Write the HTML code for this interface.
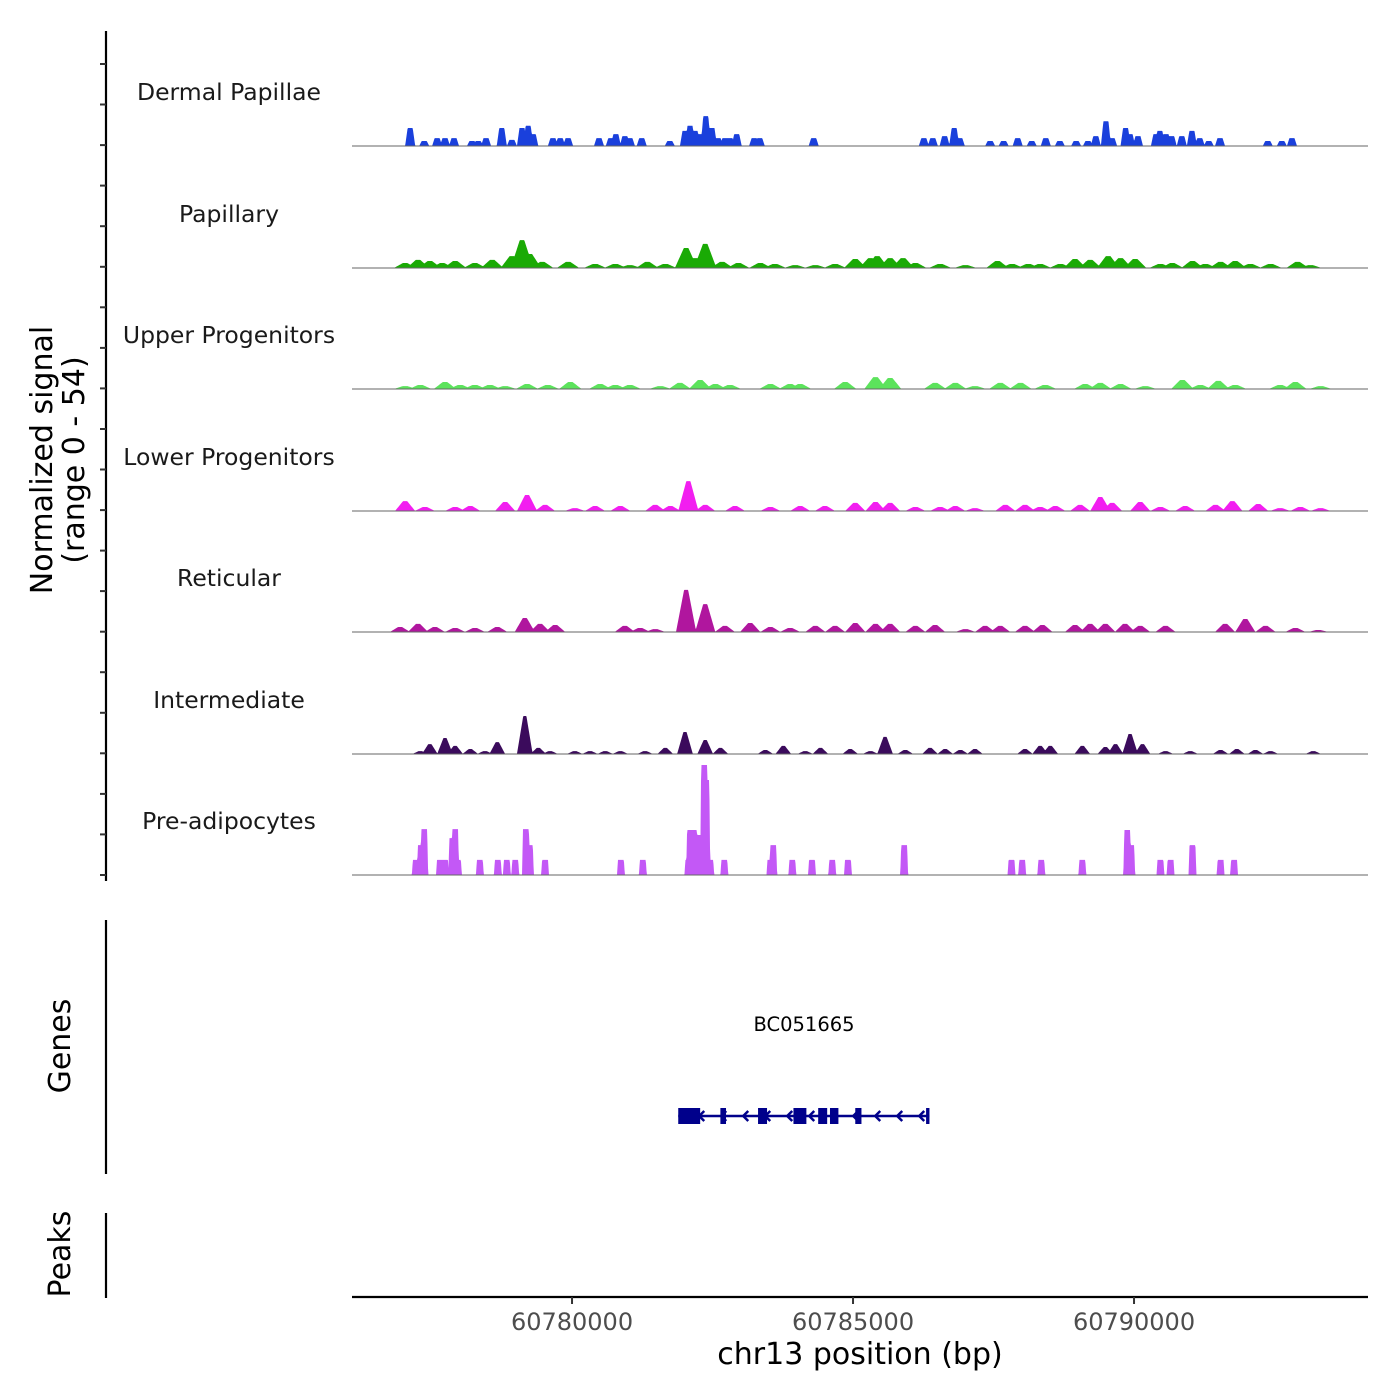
<!DOCTYPE html>
<html><head><meta charset="utf-8"><style>
body{margin:0;background:#fff}
svg{display:block;font-family:"DejaVu Sans","Liberation Sans",sans-serif}
</style></head><body>
<svg id="chart" width="1400" height="1400" viewBox="0 0 1400 1400" xmlns="http://www.w3.org/2000/svg">
<rect width="1400" height="1400" fill="#fff"/>
<g id="tracks"></g>
<g id="axes"></g>
</svg>
<script>
// positions in kb offset from 60700 kb; heights in normalized units (range 0-54)
const trackNames = ["Dermal Papillae","Papillary","Upper Progenitors","Lower Progenitors","Reticular","Intermediate","Pre-adipocytes"];
const trackColors = ["#1a40dc","#1aaa05","#5ce35c","#f21ef0","#b0169e","#3b0b5c","#c358f6"];
const dpPos = [77.12,77.37,77.60,77.74,77.90,78.22,78.33,78.47,78.75,78.93,79.11,79.22,79.31,79.66,79.79,79.93,80.48,80.69,80.78,80.94,81.03,81.24,81.74,82.01,82.10,82.19,82.28,82.38,82.49,82.60,82.72,82.81,82.93,83.24,83.34,84.30,86.26,86.42,86.63,86.80,86.90,87.44,87.68,87.93,88.18,88.43,88.68,88.97,89.18,89.32,89.50,89.61,89.85,89.93,90.07,90.39,90.46,90.57,90.67,90.85,91.03,91.17,91.33,91.53,92.38,92.63,92.81];
const dpVal = [8,2.2,3.5,3.5,3.5,2.2,2.2,3.5,8,2.7,8,9,5.3,3.5,3.5,3.5,3.5,3.5,5.3,4.4,3.5,3.5,2.2,6.7,9,6.7,5.3,13.3,8,3.5,3.5,3.5,5.3,3.5,3.5,3.5,3.5,3.5,4.4,8,3.5,2.2,2.2,3.5,2.2,3.5,2.2,2.2,2.2,4.4,11,3.5,8,5.3,4.4,5.3,6.7,5.3,4.4,4.4,6.7,3.5,2.2,3.5,2.2,2.2,3.5];
const paPos = [77.03,77.26,77.47,77.69,77.92,78.27,78.58,78.93,79.11,79.25,79.47,79.93,80.41,80.77,81.03,81.34,81.66,82.03,82.19,82.37,82.67,82.96,83.35,83.61,83.97,84.33,84.68,85.04,85.31,85.43,85.66,85.89,86.11,86.55,87.00,87.57,87.83,88.12,88.33,88.69,88.95,89.22,89.54,89.76,90.02,90.47,90.68,91.04,91.27,91.54,91.80,92.07,92.43,92.91,93.14];
const paVal = [2.2,3.6,3.1,2.2,3.1,2.2,3.6,5.3,12.4,6.2,2.7,2.7,1.8,1.8,1.3,2.7,1.8,8.9,4.4,10.7,2.7,2.2,2.2,1.8,1.3,1.3,1.8,4,4.4,5.3,4.4,4.4,2.2,1.8,1.3,3.1,1.8,1.8,1.8,1.8,4,3.6,5.3,4.4,4,1.8,2.2,3.1,1.8,2.7,3.1,1.8,1.8,2.7,1.3];
const upPos = [77.03,77.30,77.74,78.01,78.27,78.54,78.81,79.20,79.57,79.97,80.50,80.77,81.03,81.57,81.92,82.28,82.55,82.81,83.53,83.88,84.06,84.86,85.40,85.66,86.46,86.82,87.17,87.62,87.98,88.42,89.13,89.40,89.76,90.20,90.86,91.18,91.50,91.80,92.60,92.87,93.32];
const upVal = [1.3,1.8,3.1,1.8,1.8,1.8,1.3,2.2,1.8,3.1,2.2,1.8,1.8,1.3,2.7,4,2.2,1.8,2.2,2.2,2.2,3.1,5.3,4.9,2.7,2.7,1.3,2.7,2.7,1.8,2.2,2.7,2.2,1.3,4,1.8,3.6,1.8,1.8,3.1,1.3];
const lpPos = [77.03,77.38,77.92,78.19,78.81,79.20,79.52,80.05,80.41,80.86,81.48,81.75,82.07,82.37,82.90,83.53,84.06,84.50,85.04,85.40,85.66,86.11,86.55,86.82,87.17,87.71,88.06,88.33,88.60,89.04,89.40,89.61,90.11,90.47,90.91,91.45,91.75,92.21,92.60,92.96,93.32];
const lpVal = [4.4,1.8,1.8,2.2,4,7.1,2.7,1.3,2.2,2.2,2.7,2.2,13.3,2.7,2.2,1.8,2.2,2.2,3.6,4,3.6,1.8,1.8,2.2,1.3,2.7,2.7,1.8,2.2,2.7,6.2,3.6,4,1.8,2.2,2.7,4.4,3.1,1.3,1.8,1.3];
const rePos = [76.94,77.26,77.56,77.92,78.27,78.67,79.16,79.43,79.70,80.94,81.21,81.48,82.03,82.37,82.72,83.17,83.53,83.88,84.33,84.68,85.04,85.40,85.66,86.11,86.46,87.00,87.35,87.62,88.06,88.37,88.95,89.22,89.49,89.84,90.11,90.56,91.62,91.98,92.34,92.87,93.28];
const reVal = [2.2,3.6,2.2,1.8,1.8,2.2,6.2,3.6,3.1,2.7,1.8,1.3,18.7,12.4,2.7,4,2.2,1.8,2.7,2.7,4,3.6,3.6,2.7,3.1,1.3,2.7,2.7,2.7,3.1,3.1,3.6,3.6,3.6,2.7,2.7,3.6,5.8,2.7,1.8,0.9];
const inPos = [77.30,77.47,77.74,77.92,78.19,78.45,78.67,79.16,79.40,79.61,80.05,80.32,80.59,80.86,81.30,81.66,82.01,82.37,82.64,83.44,83.76,84.15,84.42,84.95,85.31,85.57,85.93,86.37,86.64,86.91,87.17,88.06,88.33,88.51,89.08,89.49,89.67,89.93,90.15,90.56,91.00,91.54,91.83,92.16,92.43,93.19];
const inVal = [1.3,4.4,7.1,3.6,2.2,1.3,5.3,16.9,2.7,1.3,1.3,1.3,1.3,1.3,1.3,2.7,9.8,6.2,2.7,1.8,3.6,1.3,2.7,2.2,1.3,7.6,1.8,2.7,2.2,1.8,2.2,2.2,3.6,3.6,3.6,3.1,4.4,8.9,4.4,1.3,1.3,1.8,2.2,1.8,1.3,1.3];
const adPos = [77.22,77.31,77.37,77.65,77.74,77.87,77.92,77.97,78.36,78.68,78.84,78.99,79.18,79.25,79.52,80.87,81.26,82.07,82.10,82.17,82.23,82.28,82.35,82.39,82.46,82.71,83.53,83.58,83.92,84.27,84.63,84.91,85.91,87.82,88.01,88.35,89.08,89.88,89.95,90.47,90.65,91.04,91.54,91.78];
const adVal = [6.7,13.3,20.4,6.7,6.7,16.4,20.4,6.7,6.7,6.7,6.7,6.7,20.4,13.3,6.7,6.7,6.7,6.7,20,20,17.8,17.8,48.9,42.2,6.7,6.7,6.7,13.3,6.7,6.7,6.7,6.7,13.3,6.7,6.7,6.7,6.7,20,13.3,6.7,6.7,13.3,6.7,6.7];
const trackPos = [dpPos,paPos,upPos,lpPos,rePos,inPos,adPos];
const trackVal = [dpVal,paVal,upVal,lpVal,reVal,inVal,adVal];
const trackHalfWidth = [0.09,0.2,0.2,0.18,0.18,0.14,0.07];
const trackFlat = [0.5,0.2,0.2,0.2,0.2,0.2,0.75];
const xTicks = [60780000,60785000,60790000];
const geneName = "BC051665";
const geneStart = 81.89, geneEnd = 86.36;
const exonStarts = [81.89,82.64,83.31,83.94,84.38,84.59,85.04,86.30];
const exonEnds   = [82.28,82.74,83.47,84.17,84.54,84.74,85.15,86.36];

const NS="http://www.w3.org/2000/svg";
const X0=352,X1=1368, BP0=60776085, PXPERBP=0.0562;
const xScale = bp => X0 + (bp-BP0)*PXPERBP;
const kbToBp = kb => 60700000 + kb*1000;
const baselines=[146,268,389,511,632,754,875];
const unitPx = 121.5/54;
function el(tag,attrs,parent){const e=document.createElementNS(NS,tag);for(const k in attrs)e.setAttribute(k,attrs[k]);parent.appendChild(e);return e;}
const tracks=document.getElementById('tracks');
const axes=document.getElementById('axes');

trackNames.forEach((name,t)=>{
  const g=el('g',{},tracks);
  
  
  const base=baselines[t];
  const pos=trackPos[t], val=trackVal[t], hw=trackHalfWidth[t]*1000, fl=trackFlat[t];
  let d='M'+X0+','+base;
  for(let px=X0;px<=X1;px+=0.5){
    const bp=BP0+(px-X0)/PXPERBP;
    let v=0;
    for(let i=0;i<pos.length;i++){
      const dist=Math.abs(bp-kbToBp(pos[i]));
      if(dist<hw){
        const f=Math.min(1,(hw-dist)/(hw*(1-fl)));
        v=Math.max(v,val[i]*f);
      }
    }
    d+=' L'+px.toFixed(1)+','+(base-v*unitPx).toFixed(2);
  }
  d+=' L'+X1+','+base+' Z';
  const p=el('path',{d:d,fill:trackColors[t],stroke:'none'},g);
  
  
  const bl=el('line',{x1:X0,x2:X1,y1:base,y2:base,stroke:'#666','stroke-width':1},g);
  
  
  const lab=el('text',{x:229,y:base-46,'text-anchor':'middle','font-size':'23.5',fill:'#1a1a1a'},g);
  lab.textContent=name;
  
  
});

// left y axis
const ya=el('line',{x1:106,x2:106,y1:31,y2:881,stroke:'#000','stroke-width':2.2},axes);


for(let y=64;y<=880;y+=40.55){
  const tk=el('line',{x1:100,x2:106,y1:y.toFixed(1),y2:y.toFixed(1),stroke:'#333','stroke-width':2},axes);
  
  
}
const yt=el('text',{transform:'translate(52,460) rotate(-90)','text-anchor':'middle','font-size':'30',fill:'#000'},axes);


const ts1=el('tspan',{x:0,dy:0},yt); ts1.textContent='Normalized signal';
const ts2=el('tspan',{x:0,dy:32},yt); ts2.textContent='(range 0 - 54)';

// genes panel
const ga=el('line',{x1:106,x2:106,y1:920,y2:1174,stroke:'#000','stroke-width':2.2},axes);


const gt=el('text',{transform:'translate(70,1046) rotate(-90)','text-anchor':'middle','font-size':'30',fill:'#000'},axes);
gt.textContent='Genes';


const gene=el('g',{},axes);


const gx1=xScale(kbToBp(geneStart)), gx2=xScale(kbToBp(geneEnd));
el('line',{x1:gx1,x2:gx2,y1:1116,y2:1116,stroke:'#00008b','stroke-width':2.5},gene);
for(let x=gx1+22;x<gx2-4;x+=22){
  el('path',{d:`M${x+4},${1111} L${x-1},${1116} L${x+4},${1121}`,fill:'none',stroke:'#00008b','stroke-width':2.5},gene);
}
exonStarts.forEach((s,i)=>{
  const a=xScale(kbToBp(s)), b=xScale(kbToBp(exonEnds[i]));
  const r=el('rect',{x:a,y:1108,width:Math.max(2,b-a),height:16,fill:'#00008b'},gene);
  
  
});
const gl=el('text',{x:804,y:1031,'text-anchor':'middle','font-size':'19.5',fill:'#000'},gene);
gl.textContent=geneName;



// peaks panel
const pa=el('line',{x1:106,x2:106,y1:1213,y2:1298,stroke:'#000','stroke-width':2.2},axes);


const pt=el('text',{transform:'translate(70,1254) rotate(-90)','text-anchor':'middle','font-size':'30',fill:'#000'},axes);
pt.textContent='Peaks';



// x axis
const xa=el('line',{x1:X0,x2:X1,y1:1297,y2:1297,stroke:'#000','stroke-width':2.2},axes);


xTicks.forEach(v=>{
  const x=xScale(v);
  const tk=el('line',{x1:x,x2:x,y1:1297,y2:1304,stroke:'#333','stroke-width':2},axes);
  
  
  const tl=el('text',{x:x,y:1330,'text-anchor':'middle','font-size':'24',fill:'#4d4d4d'},axes);
  tl.textContent=String(v);
  
  
});
const xt=el('text',{x:860,y:1364,'text-anchor':'middle','font-size':'30',fill:'#000'},axes);
xt.textContent='chr13 position (bp)';


</script>
</body></html>
